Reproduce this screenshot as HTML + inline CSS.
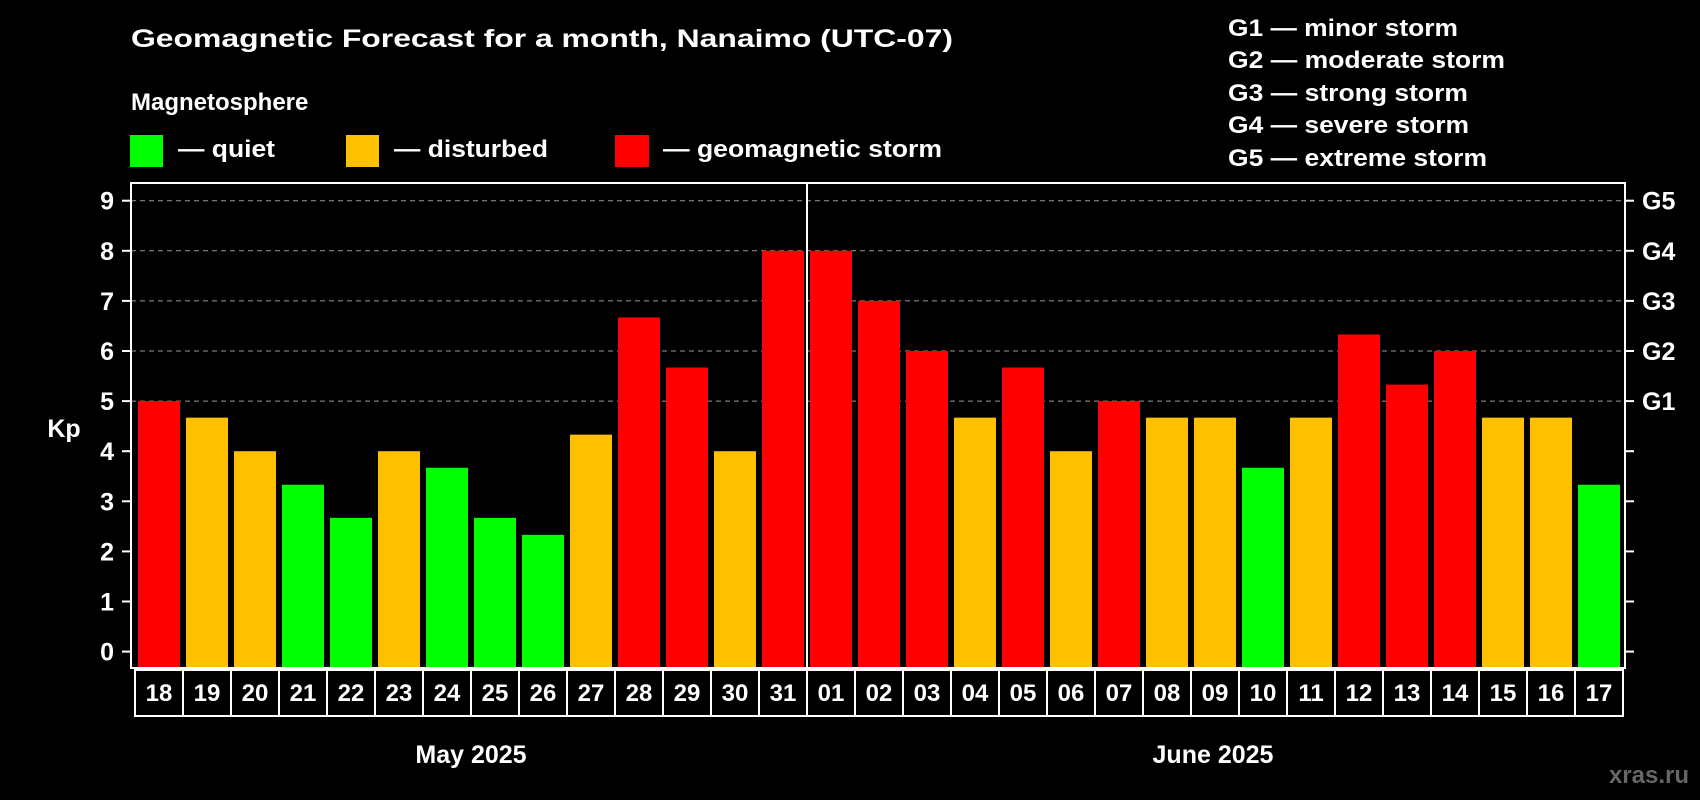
<!DOCTYPE html>
<html><head><meta charset="utf-8"><style>
html,body{margin:0;padding:0;background:#000;}
svg{display:block;font-family:"Liberation Sans",Arial,sans-serif;font-weight:bold;}
</style></head><body>
<svg id="chart" width="1700" height="800" viewBox="0 0 1700 800">
<rect x="0" y="0" width="1700" height="800" fill="#000"/>
<text x="131" y="47" font-size="25" fill="#fff" textLength="822" lengthAdjust="spacingAndGlyphs">Geomagnetic Forecast for a month, Nanaimo (UTC-07)</text>
<text x="131" y="110" font-size="24" fill="#fff">Magnetosphere</text>
<g><rect x="130" y="135" width="33" height="32" fill="#00ff00"/><text x="178" y="157" font-size="24" fill="#fff" textLength="97" lengthAdjust="spacingAndGlyphs">— quiet</text></g>
<g><rect x="346" y="135" width="33" height="32" fill="#ffc000"/><text x="394" y="157" font-size="24" fill="#fff" textLength="154" lengthAdjust="spacingAndGlyphs">— disturbed</text></g>
<g><rect x="615" y="135" width="34" height="32" fill="#ff0000"/><text x="663" y="157" font-size="24" fill="#fff" textLength="279" lengthAdjust="spacingAndGlyphs">— geomagnetic storm</text></g>
<g font-size="24" fill="#fff">
<text x="1228" y="36" textLength="230" lengthAdjust="spacingAndGlyphs">G1 — minor storm</text>
<text x="1228" y="68" textLength="277" lengthAdjust="spacingAndGlyphs">G2 — moderate storm</text>
<text x="1228" y="101" textLength="240" lengthAdjust="spacingAndGlyphs">G3 — strong storm</text>
<text x="1228" y="133" textLength="241" lengthAdjust="spacingAndGlyphs">G4 — severe storm</text>
<text x="1228" y="166" textLength="259" lengthAdjust="spacingAndGlyphs">G5 — extreme storm</text>
</g>
<g id="grid"></g>
<g id="bars"></g>
<g id="axes"></g>
<text x="64" y="437" font-size="25" fill="#fff" text-anchor="middle">Kp</text>
<text x="471" y="763" font-size="25" fill="#fff" text-anchor="middle">May 2025</text>
<text x="1213" y="763" font-size="25" fill="#fff" text-anchor="middle">June 2025</text>
<text x="1689" y="783" font-size="24" fill="#666" text-anchor="end">xras.ru</text>
</svg>
<script>
const days = ["18","19","20","21","22","23","24","25","26","27","28","29","30","31","01","02","03","04","05","06","07","08","09","10","11","12","13","14","15","16","17"];
const kpValues = [5,4.67,4,3.33,2.67,4,3.67,2.67,2.33,4.33,6.67,5.67,4,8,8,7,6,4.67,5.67,4,5,4.67,4.67,3.67,4.67,6.33,5.33,6,4.67,4.67,3.33];
const yTicks = ["0","1","2","3","4","5","6","7","8","9"];
const gLabels = ["G1","G2","G3","G4","G5"];
const monthSplitIndex = 14;

const NS = "http://www.w3.org/2000/svg";
const frameL = 131, frameR = 1625, frameT = 183, frameB = 668;
const y0 = 651.6, unit = 50.1;
const bx0 = 138, pitch = 48, bw = 42;
function yScale(v){ return y0 - v*unit; }
function xScale(i){ return bx0 + i*pitch; }
function mk(parent, tag, attrs){ const e=document.createElementNS(NS,tag); for(const k in attrs) e.setAttribute(k,attrs[k]); parent.appendChild(e); return e; }
function colorFor(v){ return v < 4 ? "#00ff00" : (v < 5 ? "#ffc000" : "#ff0000"); }

const grid = document.getElementById("grid");
const bars = document.getElementById("bars");
const axes = document.getElementById("axes");

for (let k=5;k<=9;k++){
  const l = mk(grid,"line",{x1:frameL,x2:frameR,y1:yScale(k),y2:yScale(k),stroke:"#999","stroke-width":1,"stroke-dasharray":"5,4"});
  
  
}

kpValues.forEach((v,i)=>{
  const r = mk(bars,"rect",{x:xScale(i),y:yScale(v),width:bw,height:frameB-yScale(v),fill:colorFor(v)});
  
  
});

const frame = mk(axes,"rect",{x:frameL,y:frameT,width:frameR-frameL,height:frameB-frameT,fill:"none",stroke:"#fff","stroke-width":2});



yTicks.forEach((t,k)=>{
  const y = yScale(Number(t));
  const tk = mk(axes,"line",{x1:122,x2:frameL,y1:y,y2:y,stroke:"#fff","stroke-width":2});
  
  
  const tr = mk(axes,"line",{x1:frameR,x2:1634,y1:y,y2:y,stroke:"#fff","stroke-width":2});
  
  
  const tx = mk(axes,"text",{x:114,y:y+9,"font-size":25,fill:"#fff","text-anchor":"end"});
  tx.textContent = t;
  
  
});
gLabels.forEach((g,k)=>{
  const tx = mk(axes,"text",{x:1642,y:yScale(5+k)+9,"font-size":25,fill:"#fff"});
  tx.textContent = g;
  
  
});

days.forEach((d,i)=>{
  const x = xScale(i)-3;
  const b = mk(axes,"rect",{x:x,y:670,width:pitch,height:46,fill:"none",stroke:"#fff","stroke-width":2});
  
  
  const t = mk(axes,"text",{x:x+pitch/2,y:701,"font-size":24,fill:"#fff","text-anchor":"middle"});
  t.textContent = d;
  
  
});

const sx = xScale(monthSplitIndex)-3;
const div = mk(axes,"line",{x1:sx,x2:sx,y1:frameT,y2:716,stroke:"#fff","stroke-width":2});


</script>
</body></html>
